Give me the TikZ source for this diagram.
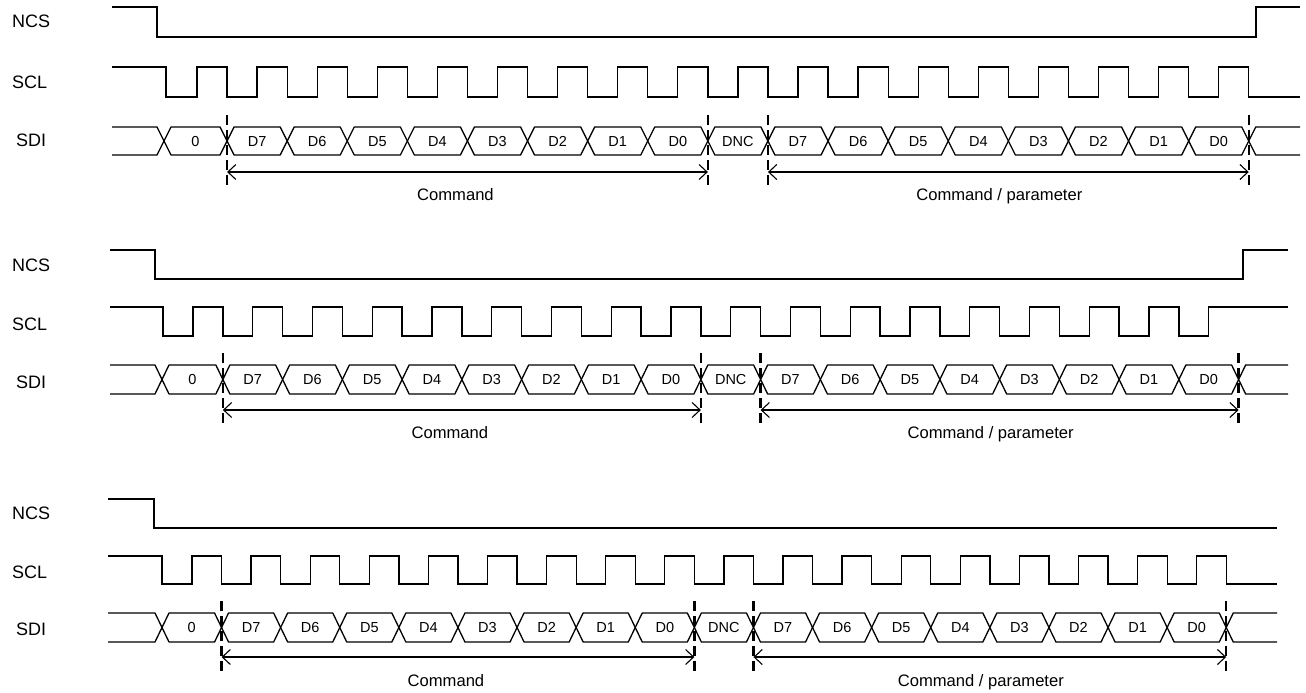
\documentclass[tikz,border=0pt]{standalone}
\usepackage{fontspec}
\setmainfont{Liberation Sans}
\usetikzlibrary{arrows.meta}
\newcommand\tdpanel[1]{%
  \pgfmathsetmacro\pYm{(\pYt+\pYb)/2}%
  % signal names
  \node[sig] (#1ncs) at (12,\pLn+6.5) {NCS};
  \node[sig] (#1scl) at (12,\pLc+6.5) {SCL};
  \node[sig] (#1sdi) at (16,\pLd+6.5) {SDI};
  % NCS
  \draw[wave] (\pXs,\pNh) -- (\pNf,\pNh) -- (\pNf,\pNl) -- (\pNr,\pNl) -- (\pNr,\pNt) -- (\pXe,\pNt);
  % SCL
  \draw[wave] (\pXs,\pSh) -- (\pSf,\pSh) -- (\pSf,\pSl)
    \foreach \k in {0,...,\pKn} { -- ({\pRa+\k*\pPd},\pSl) -- ({\pRa+\k*\pPd},\pSh)
      -- ({\pRa+\pPd/2+\k*\pPd},\pSh) -- ({\pRa+\pPd/2+\k*\pPd},\pSl) }
    -- ({\pRa+(\pKn+1)*\pPd},\pSl) -- ({\pRa+(\pKn+1)*\pPd},\pTl) -- (\pXe,\pTl);
  % SDI lead-in and tail
  \pgfmathsetmacro\pCe{\pRa+\pPd/2+17*\pPd}%
  \draw[wave] (\pXs,\pYt) -- (\pXz-\pHw,\pYt) -- (\pXz,\pYm) -- (\pXz-\pHw,\pYb) -- (\pXs,\pYb);
  \draw[wave] (\pXe,\pYt) -- (\pCe+\pHw,\pYt) -- (\pCe,\pYm) -- (\pCe+\pHw,\pYb) -- (\pXe,\pYb);
  % SDI cells
  \foreach \i/\lab in {0/0,1/D7,2/D6,3/D5,4/D4,5/D3,6/D2,7/D1,8/D0,9/DNC,10/D7,11/D6,12/D5,13/D4,14/D3,15/D2,16/D1,17/D0} {
    \pgfmathsetmacro\ca{\i==0 ? \pXz : \pRa+\pPd/2+(\i-1)*\pPd}
    \pgfmathsetmacro\cb{\pRa+\pPd/2+\i*\pPd}
    \draw[wave,line join=round] (\ca,\pYm) -- (\ca+\pHw,\pYt) -- (\cb-\pHw,\pYt) -- (\cb,\pYm) -- (\cb-\pHw,\pYb) -- (\ca+\pHw,\pYb) -- cycle;
    \node[cell] (#1cell\i) at ({(\ca+\cb)/2},\pYm+5) {\lab};
  }
  % guides
  \foreach \j in {1,9,10,18} {
    \pgfmathsetmacro\cx{\pRa+\pPd/2+(\j-1)*\pPd}
    \coordinate (#1t\j) at (\cx,\pDt);
    \coordinate (#1b\j) at (\cx,\pDb);
    \coordinate (#1a\j) at (\cx,\pYa);
    \draw[guide] (#1t\j) -- (#1b\j);
  }
  \draw[dim] (#1a1) -- (#1a9);
  \draw[dim] (#1a10) -- (#1a18);
  \pgfmathsetmacro\mA{\pRa+\pPd/2+4*\pPd-12}%
  \pgfmathsetmacro\mB{\pRa+\pPd/2+13*\pPd-9}%
  \node[captext] (#1cmd) at (\mA,\pYc+6) {Command};
  \node[captext] (#1par) at (\mB,\pYc+6) {Command / parameter};
}
\begin{document}
\begin{tikzpicture}[x=1pt,y=-1pt,
  wave/.style={line width=1.3pt},
  guide/.style={line width=2.3pt, dash pattern=on 10pt off 5pt},
  dim/.style={line width=1.1pt, {Straight Barb[length=8pt,width=15pt]}-{Straight Barb[length=8pt,width=15pt]}},
  sig/.style={font=\fontsize{18}{21}\selectfont, anchor=base west, inner sep=0pt},
  cell/.style={font=\fontsize{14.5}{17}\selectfont, anchor=base, inner sep=0pt},
  captext/.style={font=\fontsize{16.6}{19}\selectfont, anchor=base, inner sep=0pt}]
\useasboundingbox (0,0) rectangle (1306,693);
\fill[white] (0,0) rectangle (1306,693);
% panel 1
{\def\pXs{112}\def\pXe{1300}\def\pNf{157}\def\pNr{1256}
 \def\pNh{7}\def\pNl{37}\def\pNt{7}
 \def\pSf{166}\def\pXz{164}\def\pRa{197}\def\pPd{60.1}\def\pKn{17}
 \def\pSh{67}\def\pSl{97}\def\pTl{97}
 \def\pYt{127}\def\pYb{155}\def\pHw{7}
 \def\pDt{115}\def\pDb{187}\def\pYa{172}\def\pYc{194}
 \def\pLn{21}\def\pLc{82}\def\pLd{140}
 \tdpanel{a}}
% panel 2
{\def\pXs{110}\def\pXe{1288}\def\pNf{155}\def\pNr{1243}
 \def\pNh{250}\def\pNl{279}\def\pNt{250}
 \def\pSf{163}\def\pXz{162}\def\pRa{193}\def\pPd{59.75}\def\pKn{16}
 \def\pSh{307}\def\pSl{336}\def\pTl{307}
 \def\pYt{365}\def\pYb{394}\def\pHw{7}
 \def\pDt{353}\def\pDb{424}\def\pYa{410}\def\pYc{432}
 \def\pLn{265}\def\pLc{324}\def\pLd{382}
 \tdpanel{b}}
% panel 3
{\def\pXs{108}\def\pXe{1277}\def\pNf{154}\def\pNr{1277}
 \def\pNh{499}\def\pNl{528}\def\pNt{528}
 \def\pSf{162}\def\pXz{162}\def\pRa{192}\def\pPd{59.1}\def\pKn{17}
 \def\pSh{556}\def\pSl{584}\def\pTl{584}
 \def\pYt{613}\def\pYb{642}\def\pHw{7}
 \def\pDt{601}\def\pDb{672}\def\pYa{657}\def\pYc{680}
 \def\pLn{513}\def\pLc{572}\def\pLd{629}
 \tdpanel{c}}
\end{tikzpicture}
\end{document}
